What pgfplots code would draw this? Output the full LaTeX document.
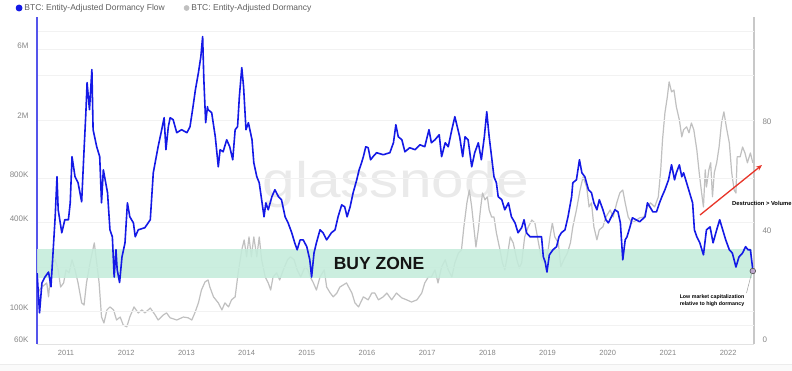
\documentclass[border=0pt]{standalone}
\usepackage{pgfplots}
\pgfplotsset{compat=1.18}
\usetikzlibrary{arrows.meta}
\usepackage{fontspec}
\setmainfont{Liberation Sans}
\definecolor{flowblue}{RGB}{20,25,230}
\definecolor{axisblue}{RGB}{85,85,235}
\definecolor{dormgray}{RGB}{192,192,192}
\definecolor{raxis}{RGB}{200,200,200}
\definecolor{bandgreen}{RGB}{196,236,219}
\definecolor{arrowred}{RGB}{232,52,40}
\definecolor{ticktext}{RGB}{135,135,135}
\definecolor{legtext}{RGB}{95,95,95}
\definecolor{wm}{RGB}{234,234,234}
\definecolor{dotfill}{RGB}{190,168,205}
\begin{document}
\begin{tikzpicture}[x=1pt,y=1pt]
\path[use as bounding box] (0,0) rectangle (792,371);
\fill[white] (0,0) rectangle (792,371);
\fill[gray!4] (0,0) rectangle (792,6);
\draw[gray!15] (0,7) -- (792,7);
\node[text=wm, font=\fontsize{50}{50}\selectfont, xscale=1.17, anchor=base] at (396,173) {glassnode};

% right axis: Entity-Adjusted Dormancy
\begin{axis}[
  at={(37pt,27pt)}, anchor=south west, width=717pt, height=327pt, scale only axis,
  xmin=2010.518, xmax=2022.43, ymin=0, ymax=120,
  axis x line=none, xtick=\empty, axis y line*=right,
  y axis line style={raxis, line width=1.5pt},
  ytick={0,40,80}, major tick length=0pt,
  yticklabel style={font=\fontsize{8}{9}\selectfont, text=ticktext, xshift=5pt, yshift=4pt},
  /pgf/number format/assume math mode=true,
]
\addplot[dormgray, line width=1.2pt, line join=round] coordinates {
(2010.52,18.7) (2010.60,20.9) (2010.68,22.4) (2010.71,17.3) (2010.76,29.8) (2010.82,30.9) (2010.87,27.2) (2010.91,20.9) (2010.96,22.4) (2011.00,27.2)
(2011.05,26.1) (2011.10,30.9) (2011.15,27.2) (2011.20,22.4) (2011.26,15.1) (2011.30,14.3) (2011.34,22.4) (2011.40,29.8) (2011.47,37.1) (2011.51,29.8)
(2011.55,22.4) (2011.59,9.9) (2011.63,7.7) (2011.68,12.5) (2011.73,13.6) (2011.79,12.5) (2011.84,8.8) (2011.90,9.9) (2011.95,7.0) (2012.01,6.3)
(2012.06,9.9) (2012.13,13.6) (2012.20,11.4) (2012.26,12.5) (2012.31,11.4) (2012.40,13.2) (2012.48,10.7) (2012.53,8.8) (2012.62,10.7) (2012.67,11.4)
(2012.73,9.6) (2012.84,8.8) (2012.95,9.9) (2013.03,9.6) (2013.09,8.8) (2013.14,11.4) (2013.20,15.1) (2013.25,19.8) (2013.31,22.8) (2013.36,23.5)
(2013.39,20.9) (2013.45,17.3) (2013.53,15.1) (2013.59,12.5) (2013.64,15.1) (2013.70,13.6) (2013.75,16.2) (2013.81,17.3) (2013.86,26.1) (2013.92,34.5)
(2013.96,38.2) (2014.00,32.0) (2014.04,39.3) (2014.08,32.0) (2014.12,39.3) (2014.17,32.0) (2014.21,39.3) (2014.25,30.9) (2014.31,24.6) (2014.36,22.4)
(2014.40,19.8) (2014.44,24.6) (2014.50,26.1) (2014.55,23.5) (2014.61,27.2) (2014.68,30.9) (2014.73,32.0) (2014.79,30.9) (2014.84,27.2) (2014.90,24.6)
(2014.97,28.3) (2015.02,27.2) (2015.06,24.6) (2015.11,22.4) (2015.16,19.8) (2015.22,24.6) (2015.29,27.2) (2015.33,20.9) (2015.39,18.7) (2015.44,17.3)
(2015.50,18.7) (2015.55,20.9) (2015.66,22.4) (2015.75,18.7) (2015.80,15.1) (2015.86,13.6) (2015.94,17.3) (2016.02,16.2) (2016.08,18.7) (2016.13,18.7)
(2016.19,16.2) (2016.27,17.3) (2016.33,18.7) (2016.41,16.2) (2016.49,18.7) (2016.58,16.9) (2016.66,16.2) (2016.74,15.4) (2016.83,16.2) (2016.91,18.7)
(2016.96,22.4) (2017.02,24.6) (2017.07,24.6) (2017.13,27.2) (2017.18,22.4) (2017.24,28.3) (2017.30,30.9) (2017.35,27.2) (2017.41,24.6) (2017.46,29.8)
(2017.52,33.4) (2017.57,34.5) (2017.61,43.0) (2017.66,51.8) (2017.70,56.5) (2017.74,50.3) (2017.78,41.9) (2017.81,35.6) (2017.85,41.9) (2017.89,50.3)
(2017.92,55.4) (2017.96,52.9) (2018.00,54.0) (2018.03,49.2) (2018.07,46.6) (2018.11,46.6) (2018.15,40.8) (2018.21,34.5) (2018.25,29.8) (2018.29,27.2)
(2018.33,32.0) (2018.38,39.3) (2018.43,37.1) (2018.49,30.9) (2018.53,27.9) (2018.57,29.8) (2018.62,39.3) (2018.68,43.0) (2018.74,45.5) (2018.79,44.4)
(2018.85,37.1) (2018.90,30.9) (2018.96,29.8) (2019.01,34.5) (2019.04,39.3) (2019.08,44.4) (2019.12,39.3) (2019.18,37.1) (2019.22,28.3) (2019.27,30.9)
(2019.33,33.4) (2019.38,37.1) (2019.42,43.0) (2019.48,49.2) (2019.54,56.5) (2019.59,61.3) (2019.65,57.6) (2019.69,50.3) (2019.73,51.8) (2019.77,43.0)
(2019.82,38.2) (2019.86,41.9) (2019.92,43.0) (2019.97,46.6) (2020.04,49.2) (2020.09,46.6) (2020.15,51.8) (2020.20,55.4) (2020.25,56.5) (2020.29,51.8)
(2020.34,46.6) (2020.40,44.4) (2020.48,45.5) (2020.53,46.3) (2020.60,46.6) (2020.66,50.3) (2020.71,51.8) (2020.78,50.3) (2020.84,54.0) (2020.88,63.9)
(2020.91,74.9) (2020.95,84.8) (2020.99,90.7) (2021.02,96.2) (2021.06,92.5) (2021.10,93.2) (2021.14,87.0) (2021.19,82.2) (2021.23,76.0) (2021.26,78.6)
(2021.31,79.7) (2021.35,77.5) (2021.39,81.1) (2021.43,78.6) (2021.48,71.2) (2021.52,62.8) (2021.56,55.4) (2021.59,50.3) (2021.62,63.9) (2021.64,57.6)
(2021.68,63.9) (2021.71,66.5) (2021.74,54.0) (2021.77,62.8) (2021.81,66.5) (2021.85,72.3) (2021.89,81.1) (2021.93,85.2) (2021.97,79.7) (2022.02,73.8)
(2022.06,62.8) (2022.10,56.5) (2022.13,55.4) (2022.15,68.7) (2022.20,68.7) (2022.24,72.3) (2022.28,70.1) (2022.32,66.5) (2022.37,70.1) (2022.41,66.5)
};
\end{axis}

% left axis: Entity-Adjusted Dormancy Flow (log)
\begin{axis}[
  at={(37pt,27pt)}, anchor=south west, width=717pt, height=327pt, scale only axis,
  ymode=log, xmin=2010.518, xmax=2022.43, ymin=60, ymax=10000,
  axis x line*=bottom, axis y line*=left,
  x axis line style={gray!22, line width=0.6pt},
  y axis line style={axisblue, line width=1.6pt},
  xtick={2011,2012,2013,2014,2015,2016,2017,2018,2019,2020,2021,2022},
  xticklabels={2011,2012,2013,2014,2015,2016,2017,2018,2019,2020,2021,2022},
  ytick={60,80,100,200,400,800,2000,4000,6000,8000},
  yticklabels={60K,,100K,,400K,800K,2M,,6M,},
  ymajorgrids, major grid style={gray!10, line width=0.5pt},
  major tick length=0pt, minor tick length=0pt,
  xticklabel style={font=\fontsize{7.5}{9}\selectfont, text=ticktext, yshift=-3pt},
  yticklabel style={font=\fontsize{8}{9}\selectfont, text=ticktext, xshift=-5pt, yshift=4pt},
  /pgf/number format/assume math mode=true,
  legend columns=2,
  legend style={at={(axis description cs:-0.030,1.0275)}, anchor=west, draw=none, fill=none,
    inner sep=0pt, font=\fontsize{8.5}{10}\selectfont, text=legtext,
    /tikz/every even column/.append style={column sep=17pt}},
  legend image code/.code={\fill[#1] (2.6pt,0pt) circle (2.6pt);},
  legend cell align=left,
]
\addplot[draw=none, fill=bandgreen, fill opacity=0.88, forget plot] coordinates {(2010.518,169) (2022.40,169) (2022.40,266) (2010.518,266)} -- cycle;
\addplot[flowblue, line width=1.6pt, line join=round] coordinates {
(2010.52,182) (2010.56,97.6) (2010.60,156) (2010.65,171) (2010.71,185) (2010.75,147) (2010.78,234) (2010.82,439) (2010.85,821) (2010.87,490)
(2010.93,342) (2010.98,419) (2011.04,419) (2011.07,546) (2011.10,1124) (2011.15,821) (2011.20,748) (2011.26,555) (2011.30,1254) (2011.33,2238)
(2011.35,3581) (2011.39,2345) (2011.43,4388) (2011.45,1715) (2011.51,1313) (2011.56,1124) (2011.59,546) (2011.62,916) (2011.69,639) (2011.73,358)
(2011.77,321) (2011.80,171) (2011.83,262) (2011.85,192) (2011.89,157) (2011.93,234) (2011.98,292) (2012.02,546) (2012.06,439) (2012.12,399)
(2012.15,321) (2012.20,358) (2012.31,370) (2012.40,419) (2012.45,874) (2012.53,1313) (2012.59,1715) (2012.63,2068) (2012.66,1254) (2012.70,1797)
(2012.73,2068) (2012.78,2005) (2012.84,1636) (2012.92,1715) (2013.01,1636) (2013.06,1797) (2013.11,2458) (2013.15,3208) (2013.20,4187) (2013.24,5378)
(2013.27,7357) (2013.29,3752) (2013.32,1914) (2013.35,2458) (2013.36,2345) (2013.42,2238) (2013.48,1536) (2013.53,960) (2013.56,1254) (2013.61,1214)
(2013.67,1465) (2013.72,1313) (2013.77,1071) (2013.81,1715) (2013.85,1797) (2013.88,2874) (2013.92,4528) (2013.95,3362) (2013.99,1715) (2014.03,1914)
(2014.09,1465) (2014.12,1022) (2014.17,821) (2014.21,748) (2014.25,573) (2014.29,439) (2014.32,546) (2014.36,490) (2014.42,601) (2014.47,670)
(2014.53,601) (2014.58,573) (2014.64,439) (2014.69,399) (2014.75,342) (2014.80,292) (2014.84,262) (2014.89,306) (2014.94,306) (2015.00,275)
(2015.05,224) (2015.08,171) (2015.12,249) (2015.16,292) (2015.22,358) (2015.27,342) (2015.33,306) (2015.41,342) (2015.47,358) (2015.52,439)
(2015.58,529) (2015.63,513) (2015.67,439) (2015.72,513) (2015.77,639) (2015.83,783) (2015.87,916) (2015.91,1022) (2015.94,1124) (2015.98,1313)
(2016.02,1293) (2016.06,1071) (2016.10,1124) (2016.16,1196) (2016.27,1159) (2016.38,1196) (2016.44,1398) (2016.48,1853) (2016.52,1536) (2016.58,1465)
(2016.63,1214) (2016.71,1293) (2016.80,1254) (2016.88,1355) (2016.96,1313) (2017.03,1715) (2017.07,1398) (2017.13,1465) (2017.20,1585) (2017.24,1124)
(2017.30,1398) (2017.35,1313) (2017.41,1715) (2017.46,2101) (2017.50,1797) (2017.54,1536) (2017.59,1124) (2017.63,1536) (2017.68,1465) (2017.74,960)
(2017.79,1196) (2017.85,1398) (2017.90,1071) (2017.95,1536) (2017.99,2273) (2018.03,1536) (2018.07,1124) (2018.11,821) (2018.15,748) (2018.18,601)
(2018.24,573) (2018.29,490) (2018.35,546) (2018.40,439) (2018.46,399) (2018.51,342) (2018.57,370) (2018.61,419) (2018.65,342) (2018.71,321)
(2018.79,321) (2018.90,321) (2018.93,234) (2018.96,217) (2018.99,185) (2019.03,242) (2019.09,262) (2019.15,275) (2019.19,321) (2019.23,342)
(2019.29,358) (2019.34,439) (2019.40,601) (2019.42,748) (2019.48,783) (2019.53,1071) (2019.57,874) (2019.62,821) (2019.68,670) (2019.73,639)
(2019.77,546) (2019.82,490) (2019.86,573) (2019.92,490) (2019.97,419) (2020.01,399) (2020.06,439) (2020.12,490) (2020.17,474) (2020.21,399)
(2020.25,224) (2020.29,306) (2020.32,321) (2020.37,375) (2020.41,432) (2020.47,419) (2020.53,406) (2020.62,439) (2020.66,546) (2020.70,513)
(2020.75,474) (2020.81,474) (2020.86,546) (2020.90,601) (2020.95,670) (2021.01,783) (2021.06,990) (2021.11,783) (2021.14,874) (2021.19,990)
(2021.23,821) (2021.26,874) (2021.31,748) (2021.36,639) (2021.41,546) (2021.44,358) (2021.48,321) (2021.53,292) (2021.59,242) (2021.64,358)
(2021.70,375) (2021.75,292) (2021.81,358) (2021.86,419) (2021.91,358) (2021.96,306) (2022.02,262) (2022.07,249) (2022.13,200) (2022.18,234)
(2022.24,249) (2022.29,275) (2022.33,262) (2022.37,262) (2022.41,192)
};
\addlegendentry{BTC: Entity-Adjusted Dormancy Flow}
\addlegendimage{dormgray}
\addlegendentry{BTC: Entity-Adjusted Dormancy}
\addplot[only marks, mark=*, mark size=2.8pt, mark options={fill=dotfill, draw=black!70, line width=0.6pt}, forget plot] coordinates {(2022.41,188)};
\end{axis}

\node[anchor=base, font=\bfseries\fontsize{17.5}{18}\selectfont, text=black!92] at (379,101) {BUY ZONE};
\draw[arrowred, line width=1.3pt, -{Stealth[length=6pt,width=5pt]}] (700,156) -- (762,206);
\node[anchor=west, font=\bfseries\fontsize{5.8}{6}\selectfont, inner sep=0pt] at (732,168) {Destruction > Volume};
\draw[gray!75, line width=0.5pt] (751.5,97.5) -- (746.5,78);
\node[align=center, font=\bfseries\fontsize{5.3}{7}\selectfont, inner sep=0pt] at (712,70.5) {Low market capitalization\\relative to high dormancy};
\end{tikzpicture}
\end{document}
